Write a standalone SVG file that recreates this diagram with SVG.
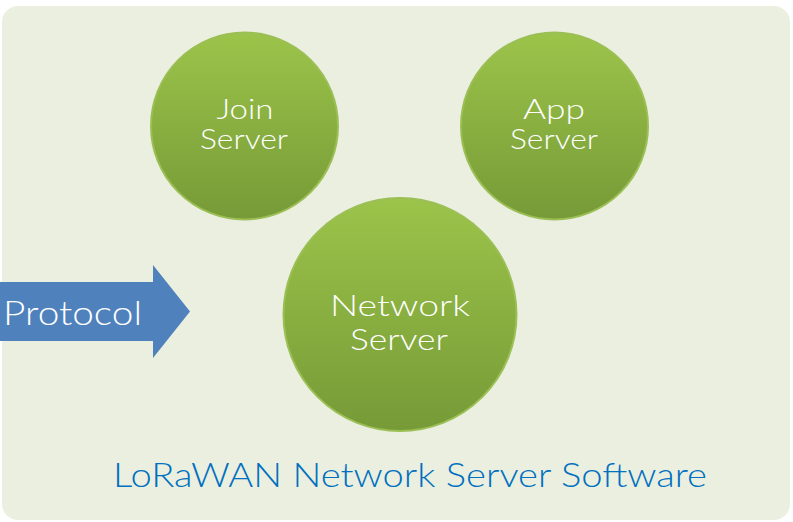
<svg xmlns="http://www.w3.org/2000/svg" width="793" height="522" viewBox="0 0 793 522">
<defs>
<linearGradient id="g" x1="0" y1="0" x2="0" y2="1">
<stop offset="0" stop-color="#9CC44A"/>
<stop offset="1" stop-color="#769A37"/>
</linearGradient>
<style>
.c{fill:url(#g);stroke:#9BBF55;stroke-width:2}
.t{font-family:Lato,"DejaVu Sans","Liberation Sans",sans-serif;font-weight:300;fill:#fff;text-anchor:middle}
.f{font-family:Lato,"DejaVu Sans","Liberation Sans",sans-serif;font-weight:300}
</style>
</defs>
<rect x="0" y="0" width="793" height="522" fill="#fff"/>
<rect x="2" y="6" width="788" height="514" rx="16" fill="#EBEFDF"/>
<g id="join-server">
<circle class="c" cx="244.5" cy="126" r="93.5"/>
<text class="t" x="245" y="119" font-size="27" textLength="57" lengthAdjust="spacingAndGlyphs">Join</text>
<text class="t" x="244" y="149" font-size="27" textLength="88" lengthAdjust="spacingAndGlyphs">Server</text>
</g>
<g id="app-server">
<circle class="c" cx="554.5" cy="126" r="93.5"/>
<text class="t" x="554" y="119" font-size="27" textLength="62" lengthAdjust="spacingAndGlyphs">App</text>
<text class="t" x="554" y="149" font-size="27" textLength="88" lengthAdjust="spacingAndGlyphs">Server</text>
</g>
<g id="network-server">
<circle class="c" cx="400" cy="314.5" r="116.5"/>
<text class="t" x="400" y="316" font-size="29" textLength="140" lengthAdjust="spacingAndGlyphs">Network</text>
<text class="t" x="399" y="350" font-size="29" textLength="98" lengthAdjust="spacingAndGlyphs">Server</text>
</g>
<g id="protocol">
<polygon points="0,282 153,282 153,265 190,311.5 153,358 153,341 0,341" fill="#4F81BD"/>
<text class="f" x="3" y="325" font-size="33" fill="#fff" textLength="139" lengthAdjust="spacingAndGlyphs">Protocol</text>
</g>
<g id="connectors"/>
<text class="f" x="113" y="487" font-size="33" fill="#0070C0" textLength="594" lengthAdjust="spacingAndGlyphs">LoRaWAN Network Server Software</text>
</svg>
